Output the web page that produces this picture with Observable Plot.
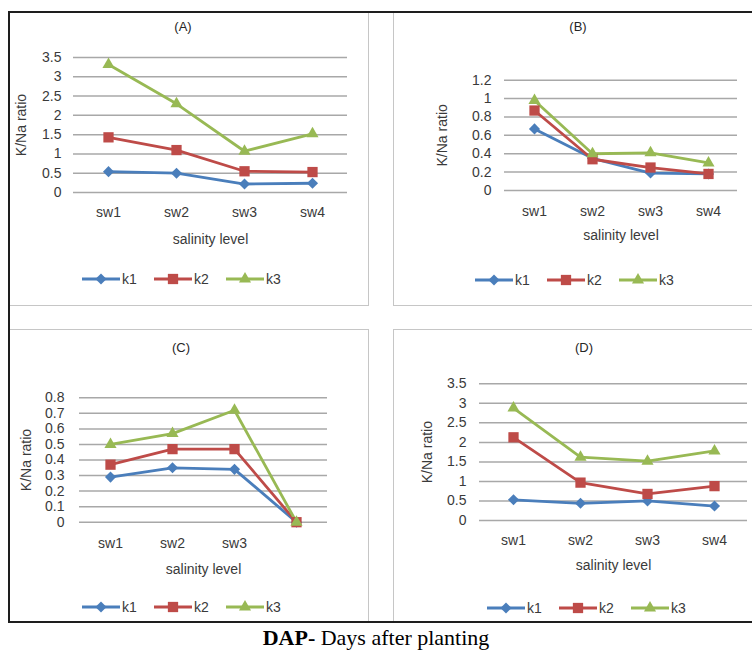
<!DOCTYPE html>
<html><head><meta charset="utf-8">
<script src="https://cdn.jsdelivr.net/npm/d3@7"></script>
<script src="https://cdn.jsdelivr.net/npm/@observablehq/plot@0.6"></script>
<style>
body{margin:0;background:#fff;}
#root{position:relative;width:752px;height:650px;overflow:hidden;background:#fff;font-family:"Liberation Sans",Arial,sans-serif;}
.box{position:absolute;border:1.5px solid #c6c6c6;box-sizing:border-box;}
.svgwrap{position:absolute;}
.title{position:absolute;font-size:13px;color:#262626;transform:translate(-50%,-50%);white-space:nowrap;}
.legend{position:absolute;}
.bl{position:absolute;background:#1e1e1e;}
.caption{position:absolute;left:0;width:752px;top:625px;text-align:center;font-family:"Liberation Serif","Times New Roman",serif;font-size:22px;color:#000;white-space:nowrap;}
</style></head><body><div id="root"></div>
<script>
// ---- data ----
const salinity = ["sw1", "sw2", "sw3", "sw4"];
const salinityC = ["sw1", "sw2", "sw3", ""];
const seriesNames = ["k1", "k2", "k3"];
const seriesColors = ["#4a7ebb", "#be4b48", "#98b954"];

const A_k1 = [0.54, 0.50, 0.22, 0.24];
const A_k2 = [1.43, 1.10, 0.55, 0.53];
const A_k3 = [3.32, 2.30, 1.07, 1.52];

const B_k1 = [0.67, 0.35, 0.19, 0.18];
const B_k2 = [0.87, 0.34, 0.25, 0.18];
const B_k3 = [0.98, 0.40, 0.41, 0.30];

const C_k1 = [0.29, 0.35, 0.34, 0];
const C_k2 = [0.37, 0.47, 0.47, 0];
const C_k3 = [0.50, 0.57, 0.72, 0];

const D_k1 = [0.53, 0.44, 0.50, 0.37];
const D_k2 = [2.13, 0.97, 0.68, 0.88];
const D_k3 = [2.88, 1.62, 1.52, 1.78];

const yTicksA = [0, 0.5, 1, 1.5, 2, 2.5, 3, 3.5];
const yTicksB = [0, 0.2, 0.4, 0.6, 0.8, 1, 1.2];
const yTicksC = [0, 0.1, 0.2, 0.3, 0.4, 0.5, 0.6, 0.7, 0.8];
const yTicksD = [0, 0.5, 1, 1.5, 2, 2.5, 3, 3.5];

const panelTitles = ["(A)", "(B)", "(C)", "(D)"];
const yLabel = "K/Na ratio";
const xLabel = "salinity level";

// ---- layout ----
const root = document.getElementById("root");
const FS = 14;
const panels = [
  {title: panelTitles[0], cats: salinity, vals: [A_k1, A_k2, A_k3], ticks: yTicksA,
   left: 9, top: 12, w: 360, h: 294, mL: 64, mR: 22, mT: 45, mB: 114, tp: 12, ylo: 57, xtp: 15, xlo: 51,
   tx: 183, ty: 26, lx: 82, ly: 279},
  {title: panelTitles[1], cats: salinity, vals: [B_k1, B_k2, B_k3], ticks: yTicksB,
   left: 393, top: 12, w: 359, h: 294, mL: 111, mR: 15, mT: 67.7, mB: 116, tp: 13, ylo: 67, xtp: 16, xlo: 49,
   tx: 578, ty: 26, lx: 475, ly: 280},
  {title: panelTitles[2], cats: salinityC, vals: [C_k1, C_k2, C_k3], ticks: yTicksC,
   left: 9, top: 329, w: 360, h: 294, mL: 70, mR: 42, mT: 68.3, mB: 101.3, tp: 15, ylo: 58, xtp: 16, xlo: 51.5,
   tx: 181, ty: 347, lx: 82, ly: 607},
  {title: panelTitles[3], cats: salinity, vals: [D_k1, D_k2, D_k3], ticks: yTicksD,
   left: 393, top: 329, w: 359, h: 294, mL: 86, mR: 5, mT: 54.3, mB: 103, tp: 13, ylo: 57, xtp: 15, xlo: 49,
   tx: 584, ty: 347, lx: 487, ly: 608}
];

const symbols = ["diamond2", "square", "triangle"];
const radii = [5, 5.8, 4.5];

function makePlot(p) {
  const data = [];
  seriesNames.forEach((s, i) => p.cats.forEach((c, j) => data.push({cat: c, s, v: p.vals[i][j]})));
  const dots = seriesNames.map((s, i) => Plot.dot(data.filter(d => d.s === s), {
    x: "cat", y: "v", fill: seriesColors[i], stroke: "none", symbol: symbols[i], r: radii[i]
  }));
  return Plot.plot({
    width: p.w, height: p.h,
    marginLeft: p.mL, marginRight: p.mR, marginTop: p.mT, marginBottom: p.mB,
    style: {fontFamily: "'Liberation Sans', Arial, sans-serif", fontSize: FS + "px", color: "#3a3a3a", background: "transparent", overflow: "visible"},
    x: {type: "point", domain: p.cats, padding: 0.5},
    y: {domain: [0, p.ticks[p.ticks.length - 1]]},
    color: {domain: seriesNames, range: seriesColors},
    marks: [
      Plot.gridY(p.ticks, {stroke: "#a8a8a8", strokeOpacity: 1, strokeWidth: 1.5}),
      Plot.axisY(p.ticks, {tickSize: 0, tickPadding: p.tp, tickFormat: d => String(d), fontSize: FS,
        label: yLabel, labelAnchor: "center", labelArrow: "none", labelOffset: p.ylo}),
      Plot.axisX({tickSize: 0, tickPadding: p.xtp, fontSize: FS,
        label: xLabel, labelAnchor: "center", labelArrow: "none", labelOffset: p.xlo}),
      Plot.line(data, {x: "cat", y: "v", z: "s", stroke: "s", strokeWidth: 2.8}),
      ...dots
    ]
  });
}

function makeLegend(x, y) {
  const ns = "http://www.w3.org/2000/svg";
  const svg = document.createElementNS(ns, "svg");
  svg.setAttribute("width", 240); svg.setAttribute("height", 20);
  svg.setAttribute("class", "legend");
  svg.style.left = x + "px"; svg.style.top = (y - 10) + "px";
  const step = 72;
  seriesNames.forEach((s, i) => {
    const x0 = i * step;
    const line = document.createElementNS(ns, "line");
    line.setAttribute("x1", x0); line.setAttribute("x2", x0 + 38);
    line.setAttribute("y1", 10); line.setAttribute("y2", 10);
    line.setAttribute("stroke", seriesColors[i]); line.setAttribute("stroke-width", 2.8);
    svg.appendChild(line);
    const sym = {diamond2: d3.symbolDiamond2, square: d3.symbolSquare, triangle: d3.symbolTriangle}[symbols[i]];
    const path = document.createElementNS(ns, "path");
    path.setAttribute("d", d3.symbol(sym, Math.PI * radii[i] * radii[i])());
    path.setAttribute("transform", `translate(${x0 + 19},10)`);
    path.setAttribute("fill", seriesColors[i]);
    svg.appendChild(path);
    const t = document.createElementNS(ns, "text");
    t.setAttribute("x", x0 + 40); t.setAttribute("y", 15);
    t.setAttribute("font-size", FS); t.setAttribute("fill", "#3a3a3a");
    t.setAttribute("font-family", "'Liberation Sans', Arial, sans-serif");
    t.textContent = s;
    svg.appendChild(t);
  });
  return svg;
}

panels.forEach(p => {
  const box = document.createElement("div");
  box.className = "box";
  box.style.left = p.left + "px"; box.style.top = p.top + "px";
  box.style.width = (p.left > 300 ? 380 : p.w) + "px"; box.style.height = p.h + "px";
  root.appendChild(box);
  const wrap = document.createElement("div");
  wrap.className = "svgwrap";
  wrap.style.left = p.left + "px"; wrap.style.top = p.top + "px";
  wrap.appendChild(makePlot(p));
  root.appendChild(wrap);
  const t = document.createElement("div");
  t.className = "title"; t.textContent = p.title;
  t.style.left = p.tx + "px"; t.style.top = p.ty + "px";
  root.appendChild(t);
  root.appendChild(makeLegend(p.lx, p.ly));
});

// outer frame lines
[[8, 11, 744, 2], [8, 11, 2, 612], [8, 621, 744, 2]].forEach(([l, t, w, h]) => {
  const d = document.createElement("div");
  d.className = "bl";
  d.style.left = l + "px"; d.style.top = t + "px"; d.style.width = w + "px"; d.style.height = h + "px";
  root.appendChild(d);
});

const cap = document.createElement("div");
cap.className = "caption";
cap.innerHTML = "<b>DAP-</b> Days after planting";
root.appendChild(cap);
</script>
</body></html>
